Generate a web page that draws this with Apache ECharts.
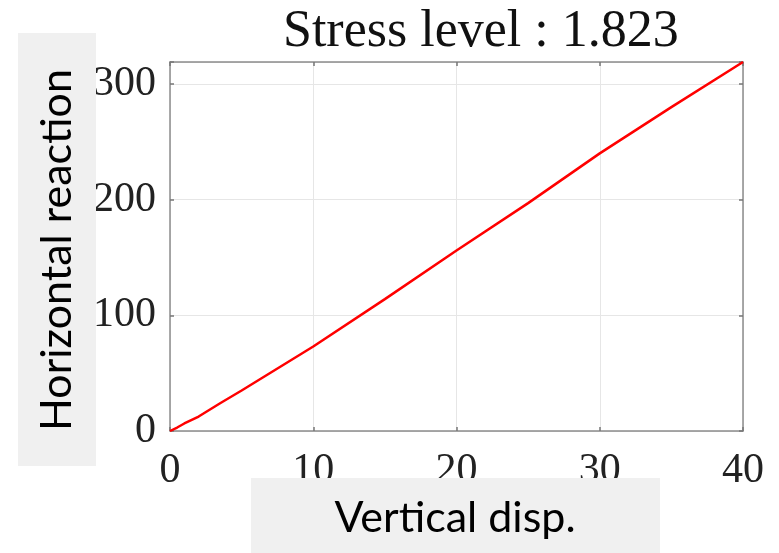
<!DOCTYPE html>
<html>
<head>
<meta charset="utf-8">
<script src="https://cdn.jsdelivr.net/npm/echarts@6/dist/echarts.min.js"></script>
<style>
  html, body { margin: 0; padding: 0; background: #fff; }
  #chart { width: 779px; height: 553px; }
</style>
</head>
<body>
<div id="chart"></div>
<script>
// Vertical displacement vs. horizontal reaction
const dispValues = [0, 0.5, 1, 2, 3.5, 5, 10, 15, 20, 25, 30, 35, 40];
const reactionValues = [0, 3, 6.5, 12.5, 24, 35, 73, 114, 156, 197, 240, 280, 319];
const xTicks = [0, 10, 20, 30, 40];
const yTicks = [0, 100, 200, 300];

const titleText = 'Stress level : 1.823';
const xName = 'Vertical disp.';
const yName = 'Horizontal reaction';

const points = dispValues.map((d, i) => [d, reactionValues[i]]);

const serif = '"Liberation Serif", "Times New Roman", serif';
const sans = 'Lato, "Open Sans", sans-serif';
const frameColor = '#8c8c8c';
const gridColor = '#e6e6e6';

const tickFmt = (list) => (v) => (list.indexOf(v) >= 0 ? String(v) : '');

const chart = echarts.init(document.getElementById('chart'), null, { renderer: 'canvas' });

chart.setOption({
  animation: false,
  backgroundColor: '#ffffff',
  title: {
    text: titleText,
    left: 283,
    top: 6,
    padding: 0,
    textStyle: { fontFamily: serif, fontSize: 52, fontWeight: 'normal', color: '#111' }
  },
  grid: { left: 170, top: 62, right: 36, bottom: 122, containLabel: false },
  xAxis: [
    {
      type: 'value', position: 'bottom', min: 0, max: 40, interval: 10,
      axisLine: { show: true, onZero: false, lineStyle: { color: frameColor, width: 1.5 } },
      axisTick: { show: true, inside: true, length: 4, lineStyle: { color: '#777', width: 1.5 } },
      axisLabel: { margin: 19, fontFamily: serif, fontSize: 42, color: '#222', formatter: tickFmt(xTicks) },
      splitLine: { show: true, lineStyle: { color: gridColor, width: 1 } }
    },
    {
      type: 'value', position: 'top', min: 0, max: 40, interval: 10,
      axisLine: { show: true, onZero: false, lineStyle: { color: frameColor, width: 1.5 } },
      axisTick: { show: true, inside: true, length: 4, lineStyle: { color: '#777', width: 1.5 } },
      axisLabel: { show: false },
      splitLine: { show: false }
    }
  ],
  yAxis: [
    {
      type: 'value', position: 'left', min: 0, max: 319, interval: 100,
      axisLine: { show: true, onZero: false, lineStyle: { color: frameColor, width: 1.5 } },
      axisTick: { show: true, inside: true, length: 4, lineStyle: { color: '#777', width: 1.5 } },
      axisLabel: { margin: 14, padding: [6, 0, 0, 0], fontFamily: serif, fontSize: 42, color: '#222', formatter: tickFmt(yTicks) },
      splitLine: { show: true, lineStyle: { color: gridColor, width: 1 } }
    },
    {
      type: 'value', position: 'right', min: 0, max: 319, interval: 100,
      axisLine: { show: true, onZero: false, lineStyle: { color: frameColor, width: 1.5 } },
      axisTick: { show: true, inside: true, length: 4, lineStyle: { color: '#777', width: 1.5 } },
      axisLabel: { show: false },
      splitLine: { show: false }
    }
  ],
  series: [
    {
      type: 'line',
      data: points,
      showSymbol: false,
      symbol: 'none',
      lineStyle: { color: '#ff0000', width: 2.5 },
      z: 5
    }
  ],
  graphic: [
    {
      type: 'rect', z: 100,
      shape: { x: 18, y: 33, width: 78, height: 433 },
      style: { fill: '#f0f0f0' }
    },
    {
      type: 'text', z: 101,
      x: 57, y: 250, rotation: Math.PI / 2,
      style: { text: yName, fontFamily: sans, fontSize: 43, fill: '#000', align: 'center', verticalAlign: 'middle' }
    },
    {
      type: 'rect', z: 100,
      shape: { x: 251, y: 478, width: 409, height: 75 },
      style: { fill: '#f0f0f0' }
    },
    {
      type: 'text', z: 101,
      x: 455, y: 518,
      style: { text: xName, fontFamily: sans, fontSize: 43, fill: '#000', align: 'center', verticalAlign: 'middle' }
    }
  ]
});
</script>
</body>
</html>
